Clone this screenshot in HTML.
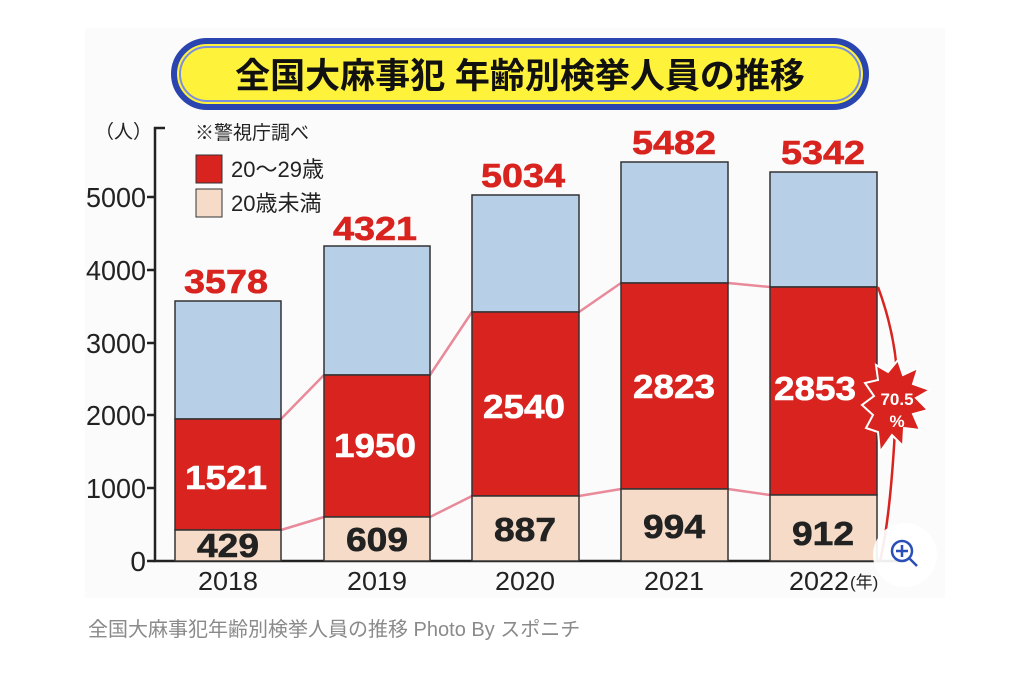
<!DOCTYPE html>
<html><head><meta charset="utf-8"><style>
body{margin:0;width:1024px;height:674px;background:#fff;overflow:hidden;font-family:"Liberation Sans","Noto Sans CJK JP",sans-serif}
</style></head><body>
<svg width="1024" height="674" viewBox="0 0 1024 674" xmlns="http://www.w3.org/2000/svg" font-family="Liberation Sans, Noto Sans CJK JP, sans-serif">
<rect x="85" y="28" width="860" height="570" fill="#fbfbfb"/>
<rect x="174" y="41" width="692" height="66" rx="33" fill="#fff23a" stroke="#2a44b0" stroke-width="6"/>
<rect x="180" y="47" width="680" height="54" rx="27" fill="none" stroke="#7a8fe0" stroke-width="2"/>
<text x="520" y="88" text-anchor="middle" font-size="35" font-weight="bold" fill="#111">全国大麻事犯 年齢別検挙人員の推移</text>
<text x="95" y="138" font-size="19" fill="#222">（人）</text>
<text x="195" y="139" font-size="19" fill="#222">※警視庁調べ</text>
<rect x="196" y="155" width="26" height="28" fill="#d8231f" stroke="#333"/>
<text x="231" y="177" font-size="22" fill="#222">20～29歳</text>
<rect x="196" y="189" width="26" height="28" fill="#f6dcc8" stroke="#333"/>
<text x="231" y="211" font-size="22" fill="#222">20歳未満</text>
<g stroke="#222" stroke-width="2.5" fill="none">
<path d="M165 128 H155 V561 H900"/>
<path d="M147 197H155M147 270H155M147 343H155M147 415H155M147 488H155M147 561H155"/>
</g>
<g font-size="28" fill="#222" text-anchor="end">
<text x="146" y="207" textLength="60" lengthAdjust="spacingAndGlyphs">5000</text><text x="146" y="280" textLength="60" lengthAdjust="spacingAndGlyphs">4000</text><text x="146" y="353" textLength="60" lengthAdjust="spacingAndGlyphs">3000</text><text x="146" y="425" textLength="60" lengthAdjust="spacingAndGlyphs">2000</text><text x="146" y="498" textLength="60" lengthAdjust="spacingAndGlyphs">1000</text><text x="146" y="571">0</text>
</g>
<g stroke="#e88a9a" stroke-width="2.5" fill="none">
<path d="M281 419 L324 375 M430 375 L472 312 M579 312 L621 283 M728 283 L770 287"/>
<path d="M281 530 L324 517 M430 517 L472 496 M579 496 L621 489 M728 489 L770 495"/>
</g>
<g stroke="#333" stroke-width="1.5">
<rect x="175" y="301" width="106" height="118" fill="#b8cfe8"/><rect x="175" y="419" width="106" height="111" fill="#d8231f"/><rect x="175" y="530" width="106" height="31" fill="#f6dcc8"/>
<rect x="324" y="246" width="106" height="129" fill="#b8cfe8"/><rect x="324" y="375" width="106" height="142" fill="#d8231f"/><rect x="324" y="517" width="106" height="44" fill="#f6dcc8"/>
<rect x="472" y="195" width="107" height="117" fill="#b8cfe8"/><rect x="472" y="312" width="107" height="184" fill="#d8231f"/><rect x="472" y="496" width="107" height="65" fill="#f6dcc8"/>
<rect x="621" y="162" width="107" height="121" fill="#b8cfe8"/><rect x="621" y="283" width="107" height="206" fill="#d8231f"/><rect x="621" y="489" width="107" height="72" fill="#f6dcc8"/>
<rect x="770" y="172" width="107" height="115" fill="#b8cfe8"/><rect x="770" y="287" width="107" height="208" fill="#d8231f"/><rect x="770" y="495" width="107" height="66" fill="#f6dcc8"/>
</g>
<g font-size="33" font-weight="bold" text-anchor="middle" stroke-width="0.6">
<g fill="#d8231f" stroke="#d8231f"><text x="226" y="293" textLength="84" lengthAdjust="spacingAndGlyphs">3578</text><text x="375" y="240" textLength="84" lengthAdjust="spacingAndGlyphs">4321</text><text x="523" y="187" textLength="84" lengthAdjust="spacingAndGlyphs">5034</text><text x="674" y="154" textLength="84" lengthAdjust="spacingAndGlyphs">5482</text><text x="823" y="164" textLength="84" lengthAdjust="spacingAndGlyphs">5342</text></g>
<g fill="#fff" stroke="#fff"><text x="226" y="489" textLength="82" lengthAdjust="spacingAndGlyphs">1521</text><text x="375" y="457" textLength="82" lengthAdjust="spacingAndGlyphs">1950</text><text x="524" y="418" textLength="82" lengthAdjust="spacingAndGlyphs">2540</text><text x="674" y="398" textLength="82" lengthAdjust="spacingAndGlyphs">2823</text><text x="815" y="400" textLength="82" lengthAdjust="spacingAndGlyphs">2853</text></g>
<g fill="#222" stroke="#222"><text x="228" y="557" textLength="62" lengthAdjust="spacingAndGlyphs">429</text><text x="377" y="551" textLength="62" lengthAdjust="spacingAndGlyphs">609</text><text x="525" y="541" textLength="62" lengthAdjust="spacingAndGlyphs">887</text><text x="674" y="538" textLength="62" lengthAdjust="spacingAndGlyphs">994</text><text x="823" y="545" textLength="62" lengthAdjust="spacingAndGlyphs">912</text></g>
</g>
<path d="M878 287 Q905 360 895 430 Q890 520 880 561" stroke="#d8231f" stroke-width="2.5" fill="none"/>
<polygon points="876,365 888,372 898,360 903,375 918,368 913,384 930,390 916,398 928,410 913,414 920,430 904,428 903,446 892,435 880,452 878,432 866,428 873,415 862,405 874,396 865,383 878,380" fill="#d8231f" stroke="#fff" stroke-width="2"/>
<text x="897" y="405" font-size="17" font-weight="bold" fill="#fff" text-anchor="middle">70.5</text>
<text x="897" y="427" font-size="17" font-weight="bold" fill="#fff" text-anchor="middle">%</text>
<g font-size="26" fill="#222" text-anchor="middle">
<text x="228" y="590" textLength="60" lengthAdjust="spacingAndGlyphs">2018</text><text x="377" y="590" textLength="60" lengthAdjust="spacingAndGlyphs">2019</text><text x="525" y="590" textLength="60" lengthAdjust="spacingAndGlyphs">2020</text><text x="674" y="590" textLength="60" lengthAdjust="spacingAndGlyphs">2021</text><text x="819" y="590" textLength="60" lengthAdjust="spacingAndGlyphs">2022</text>
</g>
<text x="850" y="588" font-size="17" fill="#222">(年)</text>
<circle cx="905" cy="555" r="32" fill="#fff" opacity="0.92"/>
<circle cx="902" cy="551" r="10" fill="none" stroke="#2a4fb8" stroke-width="2.5"/>
<path d="M902 545V557M896 551H908M909 558L917 566" stroke="#2a4fb8" stroke-width="2.5"/>
<text x="88" y="636" font-size="20" fill="#8a8a8a">全国大麻事犯年齢別検挙人員の推移 Photo By スポニチ</text>
</svg>
</body></html>
